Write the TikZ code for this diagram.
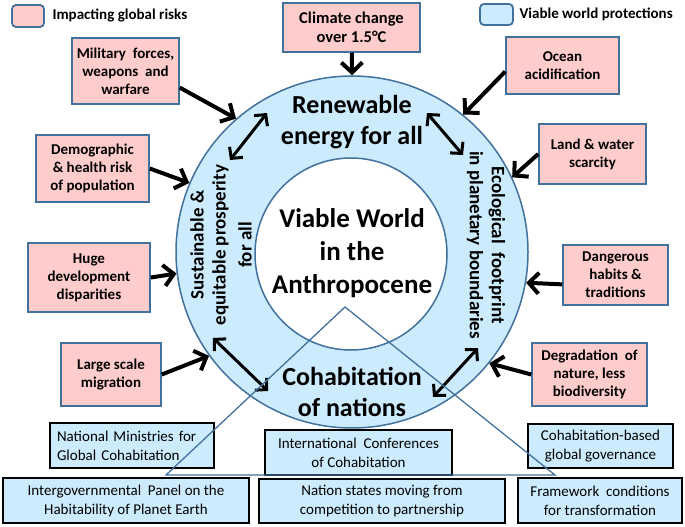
\documentclass[tikz,border=0pt]{standalone}
\usepackage{fontspec}
\setmainfont{Carlito}
\usetikzlibrary{arrows.meta}
\definecolor{pinkfill}{RGB}{255,204,204}
\definecolor{edgeblue}{RGB}{65,113,156}
\definecolor{ringfill}{RGB}{204,235,252}
\begin{document}
\begin{tikzpicture}[x=1pt,y=-1pt,
  risk/.style={draw=edgeblue, fill=pinkfill, line width=1.5pt, align=center, inner sep=0pt, font=\bfseries\fontsize{15}{18}\selectfont},
  prot/.style={draw=black, fill=ringfill, line width=1.8pt, align=center, inner sep=0pt, font=\fontsize{15}{19}\selectfont},
  legendbox/.style={draw=edgeblue, line width=1.8pt, rounded corners=4pt, inner sep=0pt},
  legendtxt/.style={anchor=west, font=\bfseries\fontsize{15}{18}\selectfont},
  push/.style={line width=4pt, -{Straight Barb[length=10pt,width=21pt]}},
  link/.style={line width=3pt, {Straight Barb[length=8pt,width=17pt]}-{Straight Barb[length=8pt,width=17pt]}},
  bigtxt/.style={align=center, font=\bfseries\fontsize{26}{31}\selectfont},
  coretxt/.style={align=center, font=\bfseries\fontsize{27}{33}\selectfont},
  sidetxt/.style={align=center, font=\bfseries\fontsize{19}{22}\selectfont}]
\useasboundingbox (0,0) rectangle (685,527);

% legend
\node[legendbox, fill=pinkfill, minimum width=32pt, minimum height=22pt] (lgr) at (28,16) {};
\node[legendtxt] (lgrt) at (49,15) {Impacting global risks};
\node[legendbox, fill=ringfill, minimum width=33pt, minimum height=21pt] (lgp) at (496.5,14.5) {};
\node[legendtxt] (lgpt) at (516,14) {Viable world protections};

% rings
\node[circle, draw=edgeblue, fill=ringfill, line width=1.5pt, minimum size=352pt, inner sep=0pt] (ring) at (352,252) {};
\node[circle, draw=edgeblue, fill=white, line width=1.5pt, minimum size=192pt, inner sep=0pt] (core) at (351,254) {};
\node[coretxt] (viable) at (352,253) {Viable World\\in the\\Anthropocene};
\node[bigtxt] (renew) at (352,122) {Renewable\\energy for all};
\node[bigtxt] (cohab) at (352,392) {Cohabitation\\of nations};
\node[sidetxt, rotate=90] (sust) at (221,245) {Sustainable \&\\equitable prosperity\\[4pt]for all};
\node[sidetxt, rotate=-90] (eco) at (486,245) {Ecological~ footprint\\in planetary boundaries};

% risk boxes
\node[risk, minimum width=137pt, minimum height=49pt, font=\bfseries\fontsize{16.5}{19}\selectfont] (climate) at (351.5,27.5) {Climate change\\over 1.5°C};
\node[risk, minimum width=107pt, minimum height=66pt] (mil) at (125.5,71) {Military~ forces,\\weapons~ and\\warfare};
\node[risk, minimum width=113pt, minimum height=67pt] (dem) at (92.5,168.5) {Demographic\\\& health risk\\of population};
\node[risk, minimum width=122pt, minimum height=69pt] (huge) at (89,277.5) {Huge\\development\\disparities};
\node[risk, minimum width=100pt, minimum height=63pt] (mig) at (111,374.5) {Large scale\\migration};
\node[risk, minimum width=113pt, minimum height=57pt] (ocean) at (562.5,65.5) {Ocean\\acidification};
\node[risk, minimum width=107pt, minimum height=60pt] (land) at (592.5,154) {Land \& water\\scarcity};
\node[risk, minimum width=105pt, minimum height=60pt] (dang) at (615.5,275) {Dangerous\\habits \&\\traditions};
\node[risk, minimum width=115pt, minimum height=63pt] (degr) at (589.5,374.5) {Degradation~ of\\nature, less\\biodiversity};

% impact arrows
\draw[push] (climate) -- (ring.north);
\draw[push] (mil.-17) -- (ring.131);
\draw[push] (dem.east) -- (ring.157);
\draw[push] (huge.east) -- (ring.187);
\draw[push] (mig.east) -- (ring.216);
\draw[push] (ocean.186) -- (ring.51);
\draw[push] (land.west) -- (ring.25);
\draw[push] (dang.190) -- (ring.-10);
\draw[push] (degr.west) -- (ring.-39);

% links around the ring
\coordinate (tla) at (267,113); \coordinate (tlb) at (230,160);
\coordinate (tra) at (427,113); \coordinate (trb) at (463,155);
\coordinate (bla) at (213,338); \coordinate (blb) at (268,391);
\coordinate (bra) at (478,348); \coordinate (brb) at (433,397);
\draw[link] (tla) -- (tlb);
\draw[link] (tra) -- (trb);
\draw[link] (bla) -- (blb);
\draw[link] (bra) -- (brb);

% protection boxes
\node[prot, minimum width=164pt, minimum height=45pt, align=left, text width=150pt, inner xsep=7pt] (minis) at (132,445.5) {National Ministries for\\Global Cohabitation};
\node[prot, minimum width=187pt, minimum height=45pt] (conf) at (358.5,452.5) {International~ Conferences\\of Cohabitation};
\node[prot, minimum width=145pt, minimum height=44pt] (gov) at (600.5,446) {Cohabitation-based\\global governance};
\node[prot, minimum width=246pt, minimum height=45pt] (panel) at (126,500.5) {Intergovernmental~ Panel on the\\Habitability of Planet Earth};
\node[prot, minimum width=246pt, minimum height=44pt] (nation) at (382,501) {Nation states moving from\\competition to partnership};
\node[prot, minimum width=164pt, minimum height=45pt] (frame) at (600,500.5) {Framework~ conditions\\for transformation};

% triangle
\draw[edgeblue, line width=1.3pt, line join=miter] (345,307) -- (166,475) -- (555,475) -- cycle;
\end{tikzpicture}
\end{document}
